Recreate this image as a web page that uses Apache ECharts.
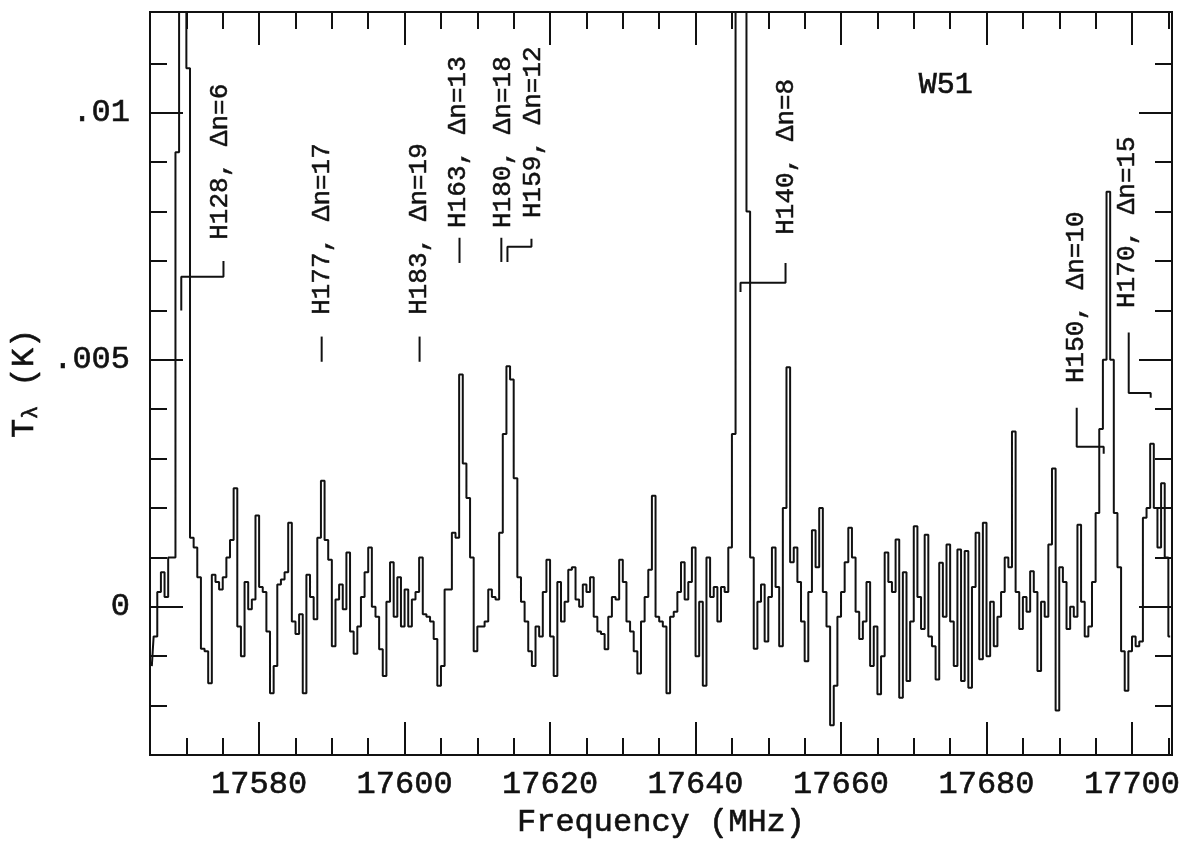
<!DOCTYPE html>
<html>
<head>
<meta charset="utf-8">
<title>W51 recombination lines</title>
<script src="https://cdn.jsdelivr.net/npm/echarts@6/dist/echarts.min.js"></script>
<style>
  html, body { margin: 0; padding: 0; background: #fff; }
  #chart { width: 1191px; height: 844px; }
</style>
</head>
<body>
<div id="chart"></div>
<script>
// spectrometer channel grid (MHz)
const chanStart = 17565;
const chanWidth = 0.5;

// antenna temperature per channel, mK (> 12 runs off the top)
const tempMK = [
  -1.2, -0.6, 0.3, 0.7, 0.2, 1.0, 1.0, 9.2, 15, 15,           // 17565
  10.9, 1.4, 1.2, 0.6, -0.85, -0.9, -1.55, 0.65, 0.5, 0.35,   // 17570
  0.6, 1.0, 1.35, 2.4, -0.4, -1.0, 0.5, -0.05, 0.15, 1.85,    // 17575
  0.4, 0.3, -0.5, -1.75, -1.2, 0.45, 0.55, 0.7, 1.7, -0.3,    // 17580
  -0.55, -0.15, -1.75, 0.65, 0.2, -0.25, 1.4, 2.55, 1.35, 0.95, // 17585
  -0.8, 0.15, 0.45, -0.05, 1.1, -0.5, -0.95, -0.4, 0.2, 0.7,  // 17590
  1.2, 0.0, -0.2, -0.86, -1.4, 0.1, 0.9, -0.2, 0.6, -0.4,     // 17595
  0.35, -0.4, 0.15, 0.3, 1.0, -0.15, -0.2, -0.3, -0.65, -1.6, // 17600
  -1.2, 0.35, 0.35, 1.5, 1.4, 4.7, 2.9, 2.2, 1.0, -0.9,       // 17605
  -0.4, -0.4, -0.3, 0.35, 0.2, 0.15, 1.5, 3.5, 4.87, 4.6,     // 17610
  2.6, 0.6, 0.1, -0.3, -0.9, -1.2, -0.4, -0.6, 0.3, 0.95,     // 17615
  -0.6, -1.4, 0.5, -0.3, 0.1, 0.75, 0.8, 0.15, 0.0, 0.45,     // 17620
  0.3, 0.6, -0.2, -0.5, -0.55, -0.86, -0.2, 0.2, 0.15, 0.95,  // 17625
  0.5, -0.3, -0.5, -0.9, -1.35, -0.3, 0.2, 0.75, 2.25, -0.2,  // 17630
  -0.3, -0.4, -1.75, -0.2, -0.1, 0.3, 0.9, 0.15, 0.5, 1.2,    // 17635
  -1.0, 0.1, -1.6, 1.0, 0.2, 0.4, -0.3, 0.4, 0.3, 1.2,        // 17640
  3.5, 14, 20, 16, 8.0, 1.0, -0.85, 0.1, 0.45, -0.7,          // 17645
  0.2, 1.2, 0.4, -0.8, 2.0, 4.85, 0.9, 1.2, 0.5, -0.3,        // 17650
  -1.1, 0.3, 1.55, 0.8, 2.0, 0.3, -0.4, -2.4, -1.6, -0.2,     // 17655
  0.3, 0.9, 1.6, 1.0, -0.1, -0.65, -0.3, 0.5, -1.2, -0.4,     // 17660
  -1.77, -1.0, 1.1, 0.5, 0.3, 1.36, -1.84, 0.7, -1.5, -0.3,   // 17665
  1.63, 0.2, -0.45, 1.46, -0.6, -0.8, -1.47, 0.89, -0.2, 1.26, // 17670
  -0.3, -1.2, 1.16, -1.5, 1.13, -1.64, 0.4, 1.5, -1.06, 1.7,  // 17675
  -1.0, 0.1, -0.8, -0.2, 0.3, 1.0, 0.8, 3.55, 0.3, -0.45,     // 17680
  0.2, -0.1, 0.72, 0.3, -1.3, 0.1, -0.2, 1.26, 2.8, -2.1,     // 17685
  0.8, 0.5, -0.45, 0.0, -0.2, 1.66, 0.1, -0.6, -0.4, 0.5,     // 17690
  1.9, 3.6, 5.0, 8.4, 5.0, 1.9, 0.8, -0.9, -1.7, -0.9,        // 17695
  -0.6, -0.8, -0.7, 1.8, 2.0, 3.3, 2.0, 1.2, 2.5, 1.0,        // 17700
  -0.6                                                        // 17705
];

// axis ranges and ticks
const xMin = 17565, xMax = 17705.5;
const yMin = -3, yMax = 12.04;
const xMajorTicks = [17580, 17600, 17620, 17640, 17660, 17680, 17700];
const xMinorTicks = [17570, 17575, 17585, 17590, 17595, 17605, 17610, 17615, 17625, 17630,
  17635, 17645, 17650, 17655, 17665, 17670, 17675, 17685, 17690, 17695, 17705];
const yMajorTicks = [0, 5, 10];
const yTickLabels = ['0', '.005', '.01'];
const yMinorTicks = [-2, -1, 1, 2, 3, 4, 6, 7, 8, 9, 11];

// line identifications: label text, where the text starts, and the marker path
const lineNames = ['H128, Δn=6', 'H177, Δn=17', 'H183, Δn=19', 'H163, Δn=13', 'H180, Δn=18',
  'H159, Δn=12', 'H140, Δn=8', 'H150, Δn=10', 'H170, Δn=15'];
const labelFreq = [17574.68, 17588.7, 17602.04, 17607.4, 17613.59, 17617.72, 17652.51, 17692.26, 17699.28];
const labelTemp = [7.43, 5.91, 5.91, 7.67, 7.67, 7.87, 7.53, 4.53, 6.05];
const markerPaths = [
  [[17575.1, 7.0], [17575.1, 6.68], [17569.3, 6.68], [17569.3, 6.0]],
  [[17588.6, 5.47], [17588.6, 4.96]],
  [[17602.06, 5.47], [17602.06, 4.96]],
  [[17607.55, 7.47], [17607.55, 6.96]],
  [[17613.3, 7.47], [17613.3, 6.98]],
  [[17614.14, 6.98], [17614.14, 7.29], [17617.44, 7.29], [17617.44, 7.45]],
  [[17652.37, 6.96], [17652.37, 6.56], [17646.18, 6.56], [17646.18, 6.37]],
  [[17692.4, 4.03], [17692.4, 3.24], [17696.11, 3.24], [17696.11, 3.1]],
  [[17699.55, 5.55], [17699.55, 4.33], [17702.57, 4.33], [17702.57, 4.23]]
];
const sourceName = 'W51';
const sourcePos = [17674.4, 10.56];

const FONT = '"Liberation Mono", "DejaVu Sans Mono", monospace';
const INK = '#111';
// a thin outline in the ink colour thickens the type like the scanned lettering
const heavy = { textBorderColor: INK, textBorderWidth: 0.6 };

const spectrum = tempMK.map((t, i) => [chanStart + chanWidth * (i + 0.5), t]);

const chart = echarts.init(document.getElementById('chart'));

const xAxisFor = (position, ticks, len, withLabels) => ({
  type: 'value',
  position,
  min: xMin,
  max: xMax,
  axisLine: { show: true, onZero: false, lineStyle: { color: INK, width: 2 } },
  axisTick: { show: true, inside: true, length: len, customValues: ticks, lineStyle: { color: INK, width: 2 } },
  axisLabel: withLabels
    ? {
        show: true, customValues: ticks, margin: 14, color: INK, fontFamily: FONT, fontSize: 32,
        formatter: v => String(v), ...heavy
      }
    : { show: false },
  splitLine: { show: false }
});

const yAxisFor = (position, ticks, len, withLabels) => ({
  type: 'value',
  position,
  min: yMin,
  max: yMax,
  axisLine: { show: true, onZero: false, lineStyle: { color: INK, width: 2 } },
  axisTick: { show: true, inside: true, length: len, customValues: ticks, lineStyle: { color: INK, width: 2 } },
  axisLabel: withLabels
    ? {
        show: true, customValues: ticks, margin: 20, color: INK, fontFamily: FONT, fontSize: 32,
        formatter: v => yTickLabels[yMajorTicks.indexOf(v)], ...heavy
      }
    : { show: false },
  splitLine: { show: false }
});

const bottomMajor = xAxisFor('bottom', xMajorTicks, 33, true);
bottomMajor.name = 'Frequency (MHz)';
bottomMajor.nameLocation = 'middle';
bottomMajor.nameGap = 44;
bottomMajor.nameTextStyle = { color: INK, fontFamily: FONT, fontSize: 32, ...heavy };

const leftMajor = yAxisFor('left', yMajorTicks, 33, true);
leftMajor.name = 'T{sub|λ} (K)';
leftMajor.nameLocation = 'middle';
leftMajor.nameRotate = 90;
leftMajor.nameGap = 104;
leftMajor.nameTextStyle = {
  color: INK, fontFamily: FONT, fontSize: 32, ...heavy,
  rich: { sub: { color: INK, fontFamily: FONT, fontSize: 22, verticalAlign: 'bottom', padding: [12, 0, 0, 0], ...heavy } }
};

const series = [{
  type: 'line',
  data: spectrum,
  step: 'middle',
  showSymbol: false,
  clip: true,
  lineStyle: { color: INK, width: 2 },
  silent: true
}];
markerPaths.forEach(path => {
  series.push({
    type: 'line',
    data: path,
    showSymbol: false,
    lineStyle: { color: INK, width: 2 },
    silent: true
  });
});

chart.setOption({
  animation: false,
  backgroundColor: '#fff',
  grid: { left: 150, right: 19, top: 12, bottom: 89 },
  xAxis: [
    bottomMajor,
    xAxisFor('bottom', xMinorTicks, 17, false),
    xAxisFor('top', xMajorTicks, 33, false),
    xAxisFor('top', xMinorTicks, 17, false)
  ],
  yAxis: [
    leftMajor,
    yAxisFor('left', yMinorTicks, 17, false),
    yAxisFor('right', yMajorTicks, 33, false),
    yAxisFor('right', yMinorTicks, 17, false)
  ],
  series
});

// place the rotated line identifications through the data scales
const graphic = lineNames.map((name, i) => {
  const [px, py] = chart.convertToPixel({ xAxisIndex: 0, yAxisIndex: 0 }, [labelFreq[i], labelTemp[i]]);
  return {
    type: 'text',
    x: px,
    y: py,
    rotation: Math.PI / 2,
    silent: true,
    style: {
      text: name, fill: INK, fontFamily: FONT, fontSize: 26, align: 'left', verticalAlign: 'middle',
      stroke: INK, lineWidth: 0.5
    }
  };
});
const [sx, sy] = chart.convertToPixel({ xAxisIndex: 0, yAxisIndex: 0 }, sourcePos);
graphic.push({
  type: 'text',
  x: sx,
  y: sy,
  silent: true,
  style: {
    text: sourceName, fill: INK, fontFamily: FONT, fontSize: 30, align: 'center', verticalAlign: 'middle',
    stroke: INK, lineWidth: 0.6
  }
});
chart.setOption({ graphic });
</script>
</body>
</html>
